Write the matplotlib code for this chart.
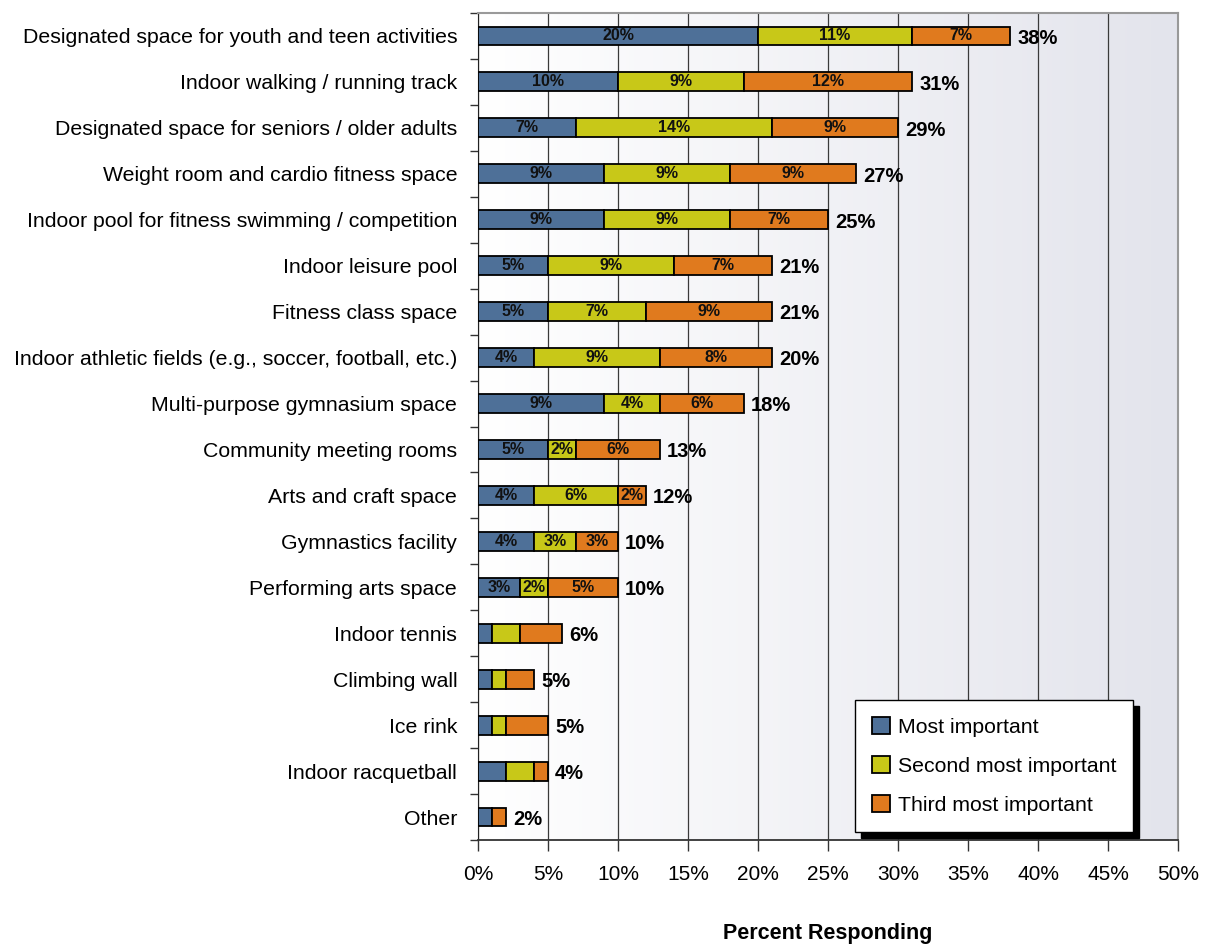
import numpy as np
import matplotlib.pyplot as plt
from matplotlib.colors import LinearSegmentedColormap

# data (segment lengths and printed labels)
categorias = [
    "Designated space for youth and teen activities",
    "Indoor walking / running track",
    "Designated space for seniors / older adults",
    "Weight room and cardio fitness space",
    "Indoor pool for fitness swimming / competition",
    "Indoor leisure pool",
    "Fitness class space",
    "Indoor athletic fields (e.g., soccer, football, etc.)",
    "Multi-purpose gymnasium space",
    "Community meeting rooms",
    "Arts and craft space",
    "Gymnastics facility",
    "Performing arts space",
    "Indoor tennis",
    "Climbing wall",
    "Ice rink",
    "Indoor racquetball",
    "Other",
]
primero = [20, 10, 7, 9, 9, 5, 5, 4, 9, 5, 4, 4, 3, 1, 1, 1, 2, 1]
segundo = [11, 9, 14, 9, 9, 9, 7, 9, 4, 2, 6, 3, 2, 2, 1, 1, 2, 0]
tercero = [7, 12, 9, 9, 7, 7, 9, 8, 6, 6, 2, 3, 5, 3, 2, 3, 1, 1]
totales = [38, 31, 29, 27, 25, 21, 21, 20, 18, 13, 12, 10, 10, 6, 5, 5, 4, 2]
# inner labels are only printed on the first 13 rows
n_etiquetas = 13

series = ["Most important", "Second most important", "Third most important"]
colores = ["#4e7098", "#c8c818", "#e07a1e"]

plt.rcParams['font.family'] = ['Liberation Sans', 'DejaVu Sans']

fig = plt.figure(figsize=(12.07, 9.52), dpi=100)
ax = fig.add_axes([478/1207, 1-840/952, 700/1207, 827/952])

# fondo con degradado
cmap = LinearSegmentedColormap.from_list('fondo', ['#ffffff', '#e3e4ec'])
grad = np.linspace(0, 1, 256).reshape(1, -1)
ax.imshow(grad, cmap=cmap, aspect='auto', extent=[0, 50, 17.5, -0.5], zorder=0)

y = np.arange(len(categorias))
izq = np.zeros(len(categorias))
for vals, col, nom in zip([primero, segundo, tercero], colores, series):
    vals = np.array(vals, dtype=float)
    ax.barh(y, vals, left=izq, height=0.41, color=col, edgecolor='black',
            linewidth=1.3, label=nom, zorder=3)
    for i in range(n_etiquetas):
        ax.text(izq[i] + vals[i]/2, y[i], f"{vals[i]:.0f}%", ha='center', va='center',
                fontsize=11.5, fontweight='bold', color='#111111', zorder=4)
    izq = izq + vals

for i, t in enumerate(totales):
    ax.text(izq[i] + 0.5, y[i] + 0.05, f"{t}%", ha='left', va='center', fontsize=14.5,
            fontweight='bold', zorder=4)

ax.set_xlim(0, 50)
ax.set_ylim(17.5, -0.5)
ax.set_xticks(np.arange(0, 51, 5))
ax.set_xticklabels([f"{v}%" for v in range(0, 51, 5)], fontsize=15)
ax.set_yticks(y)
ax.set_yticklabels(categorias, fontsize=15.3)
ax.set_yticks(np.arange(-0.5, 17.6, 1), minor=True)
ax.tick_params(axis='y', which='major', length=0, pad=15)
ax.tick_params(axis='y', which='minor', length=6, width=1, color='#333333')
ax.tick_params(axis='x', length=8, width=1, color='#333333', pad=10)
ax.grid(axis='x', color='#3a3a3a', linewidth=0.9, zorder=1)
ax.set_axisbelow(True)

for lado in ['top', 'right']:
    ax.spines[lado].set_color('#999999')
    ax.spines[lado].set_linewidth(1.5)
ax.spines['left'].set_color('#222222')
ax.spines['bottom'].set_color('#333333')
ax.spines['bottom'].set_linewidth(1.3)

ax.set_xlabel("Percent Responding", fontsize=15.5, fontweight='bold', labelpad=28)

leg = ax.legend(loc='lower left', bbox_to_anchor=(0.5386, 0.0097), borderaxespad=0,
                fontsize=15.3, frameon=True, fancybox=False, handlelength=0.85,
                handleheight=0.85, handletextpad=0.35, labelspacing=0.9,
                borderpad=0.8, shadow={'color': 'black', 'alpha': 1, 'ox': 4, 'oy': -4})
leg.get_frame().set_edgecolor('black')
leg.get_frame().set_linewidth(1)
leg.get_frame().set_alpha(1)
leg.set_zorder(10)

fig.savefig('out.png', dpi=100)
